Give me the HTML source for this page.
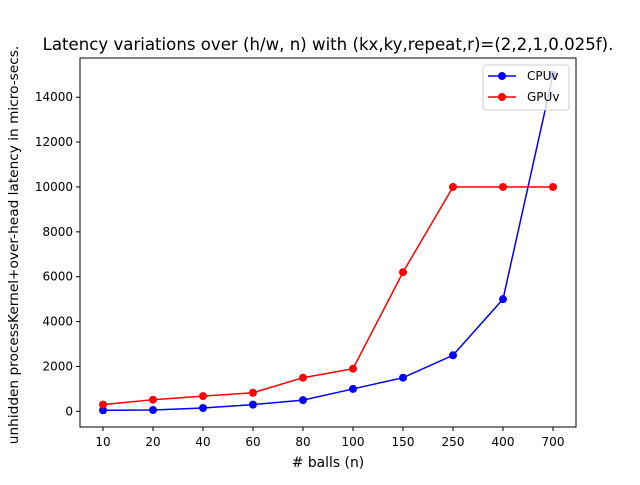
<!DOCTYPE html>
<html><head><meta charset="utf-8"><style>body{margin:0;background:#fff}svg text{font-family:"DejaVu Sans","Liberation Sans",sans-serif}</style></head>
<body>
<svg id="chart" width="640" height="480" viewBox="0 0 640 480"></svg>
<script>
const categories=["10","20","40","60","80","100","150","250","400","700"];
const cpuValues=[50,60,150,300,500,1000,1500,2500,5000,15000];
const gpuValues=[300,520,680,830,1500,1900,6200,10000,10000,10000];
const yTicks=[0,2000,4000,6000,8000,10000,12000,14000];
const L=80,R=576,T=58,B=427,ymin=-697,ymax=15747;
const svg=document.getElementById('chart');const NS='http://www.w3.org/2000/svg';
function mk(t,a,p){const e=document.createElementNS(NS,t);for(const k in a)e.setAttribute(k,a[k]);(p||svg).appendChild(e);return e;}
const x=i=>103+i*50;
const y=v=>B-(v-ymin)/(ymax-ymin)*(B-T);
const title=mk('text',{x:328,y:50,'text-anchor':'middle','font-size':16.6,fill:'#000'});title.textContent='Latency variations over (h/w, n) with (kx,ky,repeat,r)=(2,2,1,0.025f).';


const frame=mk('rect',{x:L,y:T,width:R-L,height:B-T,fill:'none',stroke:'#000','stroke-width':1});


categories.forEach((c,i)=>{mk('line',{x1:x(i),x2:x(i),y1:B,y2:B+4,stroke:'#000'});const t=mk('text',{x:x(i),y:B+19,'text-anchor':'middle','font-size':12});t.textContent=c;

});
yTicks.forEach(v=>{mk('line',{x1:L-4,x2:L,y1:y(v),y2:y(v),stroke:'#000'});const t=mk('text',{x:L-7,y:y(v)+4,'text-anchor':'end','font-size':12});t.textContent=v;

});
const xl=mk('text',{x:328,y:467,'text-anchor':'middle','font-size':13.9});xl.textContent='# balls (n)';


const yl=mk('text',{x:0,y:0,'text-anchor':'middle','font-size':13.7,transform:'translate(18,245) rotate(-90)'});yl.textContent='unhidden processKernel+over-head latency in micro-secs.';


function series(vals,col,name){const g=mk('g',{});


mk('polyline',{points:vals.map((v,i)=>x(i)+','+y(v)).join(' '),fill:'none',stroke:col,'stroke-width':1.5},g);
vals.forEach((v,i)=>{const c=mk('circle',{cx:x(i),cy:y(v),r:4,fill:col},g);

});}
series(cpuValues,'#0000ff','cpu-series');
series(gpuValues,'#ff0000','gpu-series');
const lg=mk('g',{});


mk('rect',{x:483,y:65,width:86,height:45,rx:3,fill:'#fff','fill-opacity':0.8,stroke:'#ccc'},lg);
[['CPUv','#0000ff',76],['GPUv','#ff0000',97]].forEach(([n,c,yy])=>{mk('line',{x1:488,x2:516,y1:yy,y2:yy,stroke:c,'stroke-width':1.5},lg);mk('circle',{cx:502,cy:yy,r:4,fill:c},lg);const t=mk('text',{x:527,y:yy+4,'font-size':12},lg);t.textContent=n;

});
</script>
</body></html>
